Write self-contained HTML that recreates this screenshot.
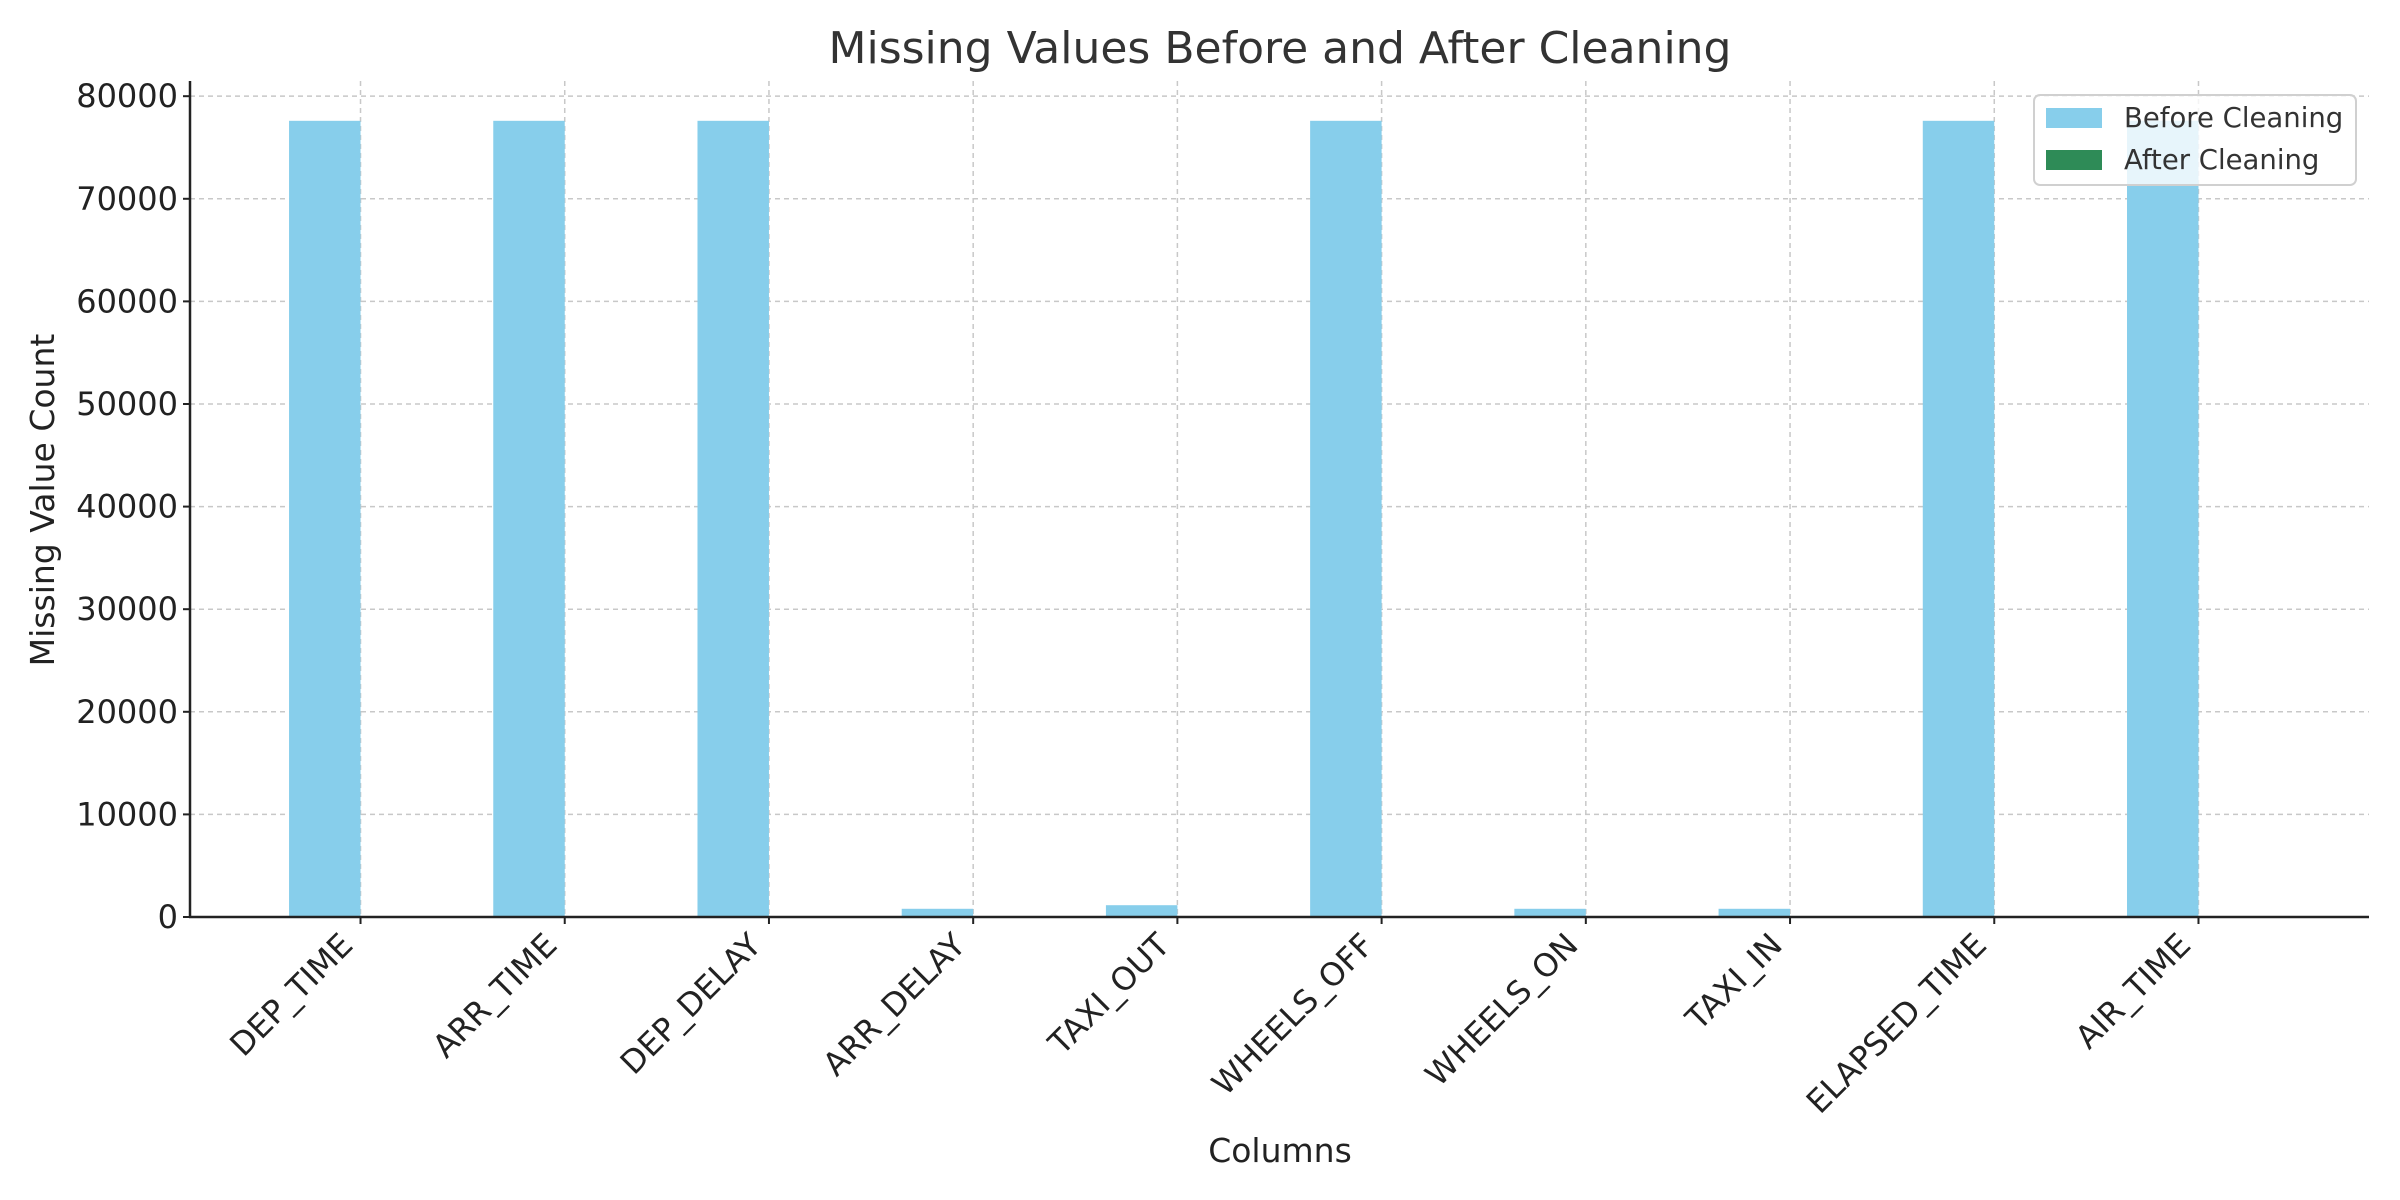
<!DOCTYPE html>
<html><head><meta charset="utf-8"><style>
html,body{margin:0;padding:0;background:#fff;}
svg{display:block;font-family:"DejaVu Sans","Liberation Sans",sans-serif;}
</style></head><body>
<svg id="chart" width="2400" height="1200" viewBox="0 0 2400 1200">
<text x="1280" y="63" text-anchor="middle" font-size="44" fill="#333">Missing Values Before and After Cleaning</text>
<g id="grid"></g><g id="bars"></g><g id="axes"></g>
<text x="1280" y="1162" text-anchor="middle" font-size="33" fill="#222">Columns</text>
<text transform="translate(54,500) rotate(-90)" text-anchor="middle" font-size="33" fill="#222">Missing Value Count</text>
<g id="legend">
<rect x="2034" y="95" width="322" height="90" rx="6" fill="#fff" fill-opacity="0.8" stroke="#d0d0d0" stroke-width="2"/>
<rect x="2046" y="108" width="56" height="20" fill="#87CEEB"/>
<text x="2124" y="127" font-size="27.5" fill="#333">Before Cleaning</text>
<rect x="2046" y="150" width="56" height="20" fill="#2E8B57"/>
<text x="2124" y="169" font-size="27.5" fill="#333">After Cleaning</text>
</g>
</svg>
<script>
const categories = ["DEP_TIME","ARR_TIME","DEP_DELAY","ARR_DELAY","TAXI_OUT","WHEELS_OFF","WHEELS_ON","TAXI_IN","ELAPSED_TIME","AIR_TIME"];
const beforeValues = [77600,77600,77600,800,1150,77600,800,800,77600,77600];
const afterValues = [0,0,0,0,0,0,0,0,0,0];
const yTicks = [0,10000,20000,30000,40000,50000,60000,70000,80000];

const NS="http://www.w3.org/2000/svg";
const L=190,R=2369,B=917,T=81;
const n=categories.length, bw=0.35;
const xMin=-bw-0.05*(n-1+2*bw), xMax=n-1+bw+0.05*(n-1+2*bw);
const yMax=1.05*Math.max(...beforeValues,...afterValues);
const x=v=>L+(v-xMin)/(xMax-xMin)*(R-L);
const y=v=>B-v/yMax*(B-T);
function mk(tag,attrs,parent){const e=document.createElementNS(NS,tag);for(const k in attrs)e.setAttribute(k,attrs[k]);parent.appendChild(e);return e;}
const grid=document.getElementById('grid'),bars=document.getElementById('bars'),axes=document.getElementById('axes');
yTicks.forEach(t=>{
  const g=mk('line',{x1:L,x2:R,y1:y(t),y2:y(t),stroke:'#c8c8c8','stroke-width':1.5,'stroke-dasharray':'5,4'},grid);
  
  
  const tk=mk('line',{x1:L-7,x2:L,y1:y(t),y2:y(t),stroke:'#222','stroke-width':2},axes);
  
  
  const lb=mk('text',{x:L-12,y:y(t)+11,'text-anchor':'end','font-size':32,fill:'#222'},axes);
  lb.textContent=t;
  
  
});
categories.forEach((c,i)=>{
  const cx=x(i);
  const g=mk('line',{x1:cx,x2:cx,y1:T,y2:B,stroke:'#c8c8c8','stroke-width':1.5,'stroke-dasharray':'5,4'},grid);
  
  
  const w=x(bw)-x(0);
  const b1=mk('rect',{x:x(i-bw),y:y(beforeValues[i]),width:w,height:B-y(beforeValues[i]),fill:'#87CEEB'},bars);
  
  
  const b2=mk('rect',{x:cx,y:y(afterValues[i]),width:w,height:B-y(afterValues[i]),fill:'#2E8B57'},bars);
  
  
  const tk=mk('line',{x1:cx,x2:cx,y1:B,y2:B+7,stroke:'#222','stroke-width':2},axes);
  
  
  const lb=mk('text',{transform:`translate(${cx-6},${B+30}) rotate(-45)`,'text-anchor':'end','font-size':32,fill:'#222'},axes);
  lb.textContent=c;
  
  
});
const ax1=mk('line',{x1:L,x2:L,y1:T,y2:B+1,stroke:'#222','stroke-width':2.5},axes);


const ax2=mk('line',{x1:L-1,x2:R,y1:B,y2:B,stroke:'#222','stroke-width':2.5},axes);


</script>
</body></html>
